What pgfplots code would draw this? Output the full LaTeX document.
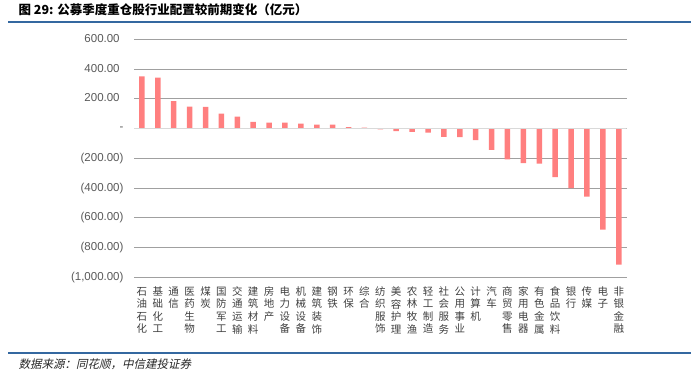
\documentclass[border=0pt]{standalone}
\usepackage{pgfplots}
\pgfplotsset{compat=1.18}
\usepackage{fontspec}
\setmainfont{Liberation Sans}
\newfontfamily\cjk{Noto Sans CJK SC}
\newfontfamily\cjkit{Noto Sans CJK SC}[FakeSlant=0.22]
\newcommand{\vl}[1]{\begin{tabular}{@{}c@{}}#1\end{tabular}}
\definecolor{barred}{HTML}{FF7F7F}
\definecolor{gridgray}{HTML}{A0A0A0}
\definecolor{zerogray}{HTML}{D9D9D9}
\definecolor{tickgray}{HTML}{595959}
\definecolor{labgray}{HTML}{404040}
\definecolor{titleblue}{HTML}{3468A0}
\begin{document}
\begin{tikzpicture}
\path[use as bounding box] (0pt,0pt) rectangle (699pt,-375pt);
\node[anchor=west, font=\cjk\bfseries\fontsize{12.5}{14}\selectfont] at (15pt,-9.5pt) {图 29: 公募季度重仓股行业配置较前期变化（亿元）};
\draw[line width=2pt, titleblue] (8pt,-21.7pt) -- (691pt,-21.7pt);
\draw[line width=1.5pt, titleblue] (8pt,-353pt) -- (691pt,-353pt);
\node[anchor=west, font=\cjkit\fontsize{11.5}{13}\selectfont, text=black!85] at (15pt,-364pt) {数据来源：同花顺，中信建投证券};
\begin{axis}[
  at={(134pt,-39.3pt)}, anchor=north west,
  scale only axis, width=492.7pt, height=238pt,
  xmin=0.5, xmax=31.5, ymin=-1000, ymax=600,
  axis line style={draw=none},
  ytick={-1000,-800,...,600},
  yticklabels={{(1,000.00)},{(800.00)},{(600.00)},{(400.00)},{(200.00)},{-\hspace{9.5pt}},{200.00\phantom{)}},{400.00\phantom{)}},{600.00\phantom{)}}},
  yticklabel style={font=\fontsize{11.5}{13}\selectfont, text=tickgray, anchor=east, xshift=-7pt},
  xtick={1,...,31},
  xticklabels={
    {\vl{石\\油\\石\\化}},{\vl{基\\础\\化\\工}},{\vl{通\\信}},{\vl{医\\药\\生\\物}},{\vl{煤\\炭}},
    {\vl{国\\防\\军\\工}},{\vl{交\\通\\运\\输}},{\vl{建\\筑\\材\\料}},{\vl{房\\地\\产}},{\vl{电\\力\\设\\备}},
    {\vl{机\\械\\设\\备}},{\vl{建\\筑\\装\\饰}},{\vl{钢\\铁}},{\vl{环\\保}},{\vl{综\\合}},
    {\vl{纺\\织\\服\\饰}},{\vl{美\\容\\护\\理}},{\vl{农\\林\\牧\\渔}},{\vl{轻\\工\\制\\造}},{\vl{社\\会\\服\\务}},
    {\vl{公\\用\\事\\业}},{\vl{计\\算\\机}},{\vl{汽\\车}},{\vl{商\\贸\\零\\售}},{\vl{家\\用\\电\\器}},
    {\vl{有\\色\\金\\属}},{\vl{食\\品\\饮\\料}},{\vl{银\\行}},{\vl{传\\媒}},{\vl{电\\子}},{\vl{非\\银\\金\\融}}},
  xticklabel style={font=\cjk\fontsize{10.5}{12.5}\selectfont, text=labgray, anchor=north, inner sep=0pt, yshift=-9pt},
  major tick length=0pt,
  ymajorgrids, grid style={gridgray, line width=0.8pt},
  ybar, bar width=5.5pt,
]
\addplot[fill=barred, draw=none] coordinates {
(1,350) (2,343) (3,185) (4,147) (5,145) (6,100) (7,80) (8,45) (9,40) (10,40)
(11,33) (12,27) (13,27) (14,10) (15,7) (16,-6) (17,-18) (18,-22) (19,-27) (20,-56)
(21,-58) (22,-78) (23,-143) (24,-208) (25,-232) (26,-236) (27,-326) (28,-400) (29,-457) (30,-680) (31,-914)
};
\draw[zerogray, line width=1.5pt] (axis cs:0.5,0) -- (axis cs:31.5,0);
\end{axis}
\end{tikzpicture}
\end{document}
